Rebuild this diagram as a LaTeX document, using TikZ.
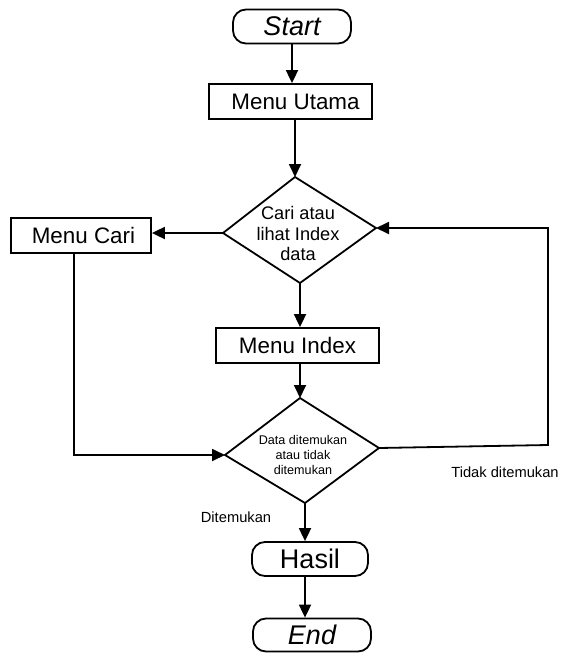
\documentclass[tikz,border=0pt]{standalone}
\usepackage{fontspec}
\setmainfont{Liberation Sans}
\usetikzlibrary{arrows.meta}
\begin{document}
\begin{tikzpicture}[x=1pt,y=-1pt,
 box/.style={draw,line width=1.8pt,inner sep=0pt,minimum height=35pt,font=\fontsize{22.4}{26}\selectfont},
 term/.style={draw,line width=1.8pt,rounded corners=13pt,inner sep=0pt,minimum height=34pt,font=\fontsize{27}{30}\selectfont},
 flow/.style={line width=1.8pt,-{Triangle[length=13pt,width=12pt]}},
 dia/.style={draw,line width=1.8pt,line join=miter},
 dtext/.style={align=center,inner sep=0pt},
 lbl/.style={font=\fontsize{14.7}{17}\selectfont,inner sep=0pt}]
\useasboundingbox (0,0) rectangle (560,653);
% terminals and boxes
\node[term,minimum width=118pt] (start) at (292,26.5) {\itshape Start};
\node[box,minimum width=163pt] (mu) at (290.5,101.5) {\hspace{10pt}Menu Utama};
\node[box,minimum width=140pt] (mc) at (81,235.5) {\hspace{5pt}Menu Cari};
\node[box,minimum width=163pt] (mi) at (297.5,345.5) {Menu Index};
\node[term,minimum width=116pt] (hasil) at (310,559) {Hasil};
\node[term,minimum width=118pt,minimum height=33pt] (end) at (312,635) {\itshape End};
% diamond 1
\coordinate (d1t) at (295,177);
\coordinate (d1l) at (223,233);
\coordinate (d1r) at (376,228);
\coordinate (d1b) at (300,283);
\draw[dia] (d1t) -- (d1r) -- (d1b) -- (d1l) -- cycle;
\node[dtext,font=\fontsize{18.2}{20.5}\selectfont] (d1txt) at (298,233.5) {Cari atau\\lihat Index\\data};
% diamond 2
\coordinate (d2t) at (300,398);
\coordinate (d2l) at (225,455);
\coordinate (d2r) at (379,448);
\coordinate (d2b) at (305,503);
\draw[dia] (d2t) -- (d2r) -- (d2b) -- (d2l) -- cycle;
\node[dtext,font=\fontsize{12.6}{15}\selectfont] (d2txt) at (303,455) {Data ditemukan\\atau tidak\\ditemukan};
% connectors
\draw[flow] (start.south) -- (start.south |- mu.north);
\draw[flow] (mu.south -| d1t) -- (d1t);
\draw[flow] (d1l) -- (d1l -| mc.east);
\draw[flow] (d1b) -- (d1b |- mi.north);
\draw[flow] (mi.south -| d2t) -- (d2t);
\draw[flow] ([xshift=-7pt]mc.south) |- (d2l);
\coordinate (lp) at (548,445);
\draw[flow] (d2r) -- (lp) |- (d1r);
\draw[flow] (d2b) -- (d2b |- hasil.north);
\draw[flow] (d2b |- hasil.south) -- (d2b |- end.north);
% labels
\node[lbl] (ltidak) at (505,472) {Tidak ditemukan};
\node[lbl] (lditem) at (236,517) {Ditemukan};
\end{tikzpicture}
\end{document}
